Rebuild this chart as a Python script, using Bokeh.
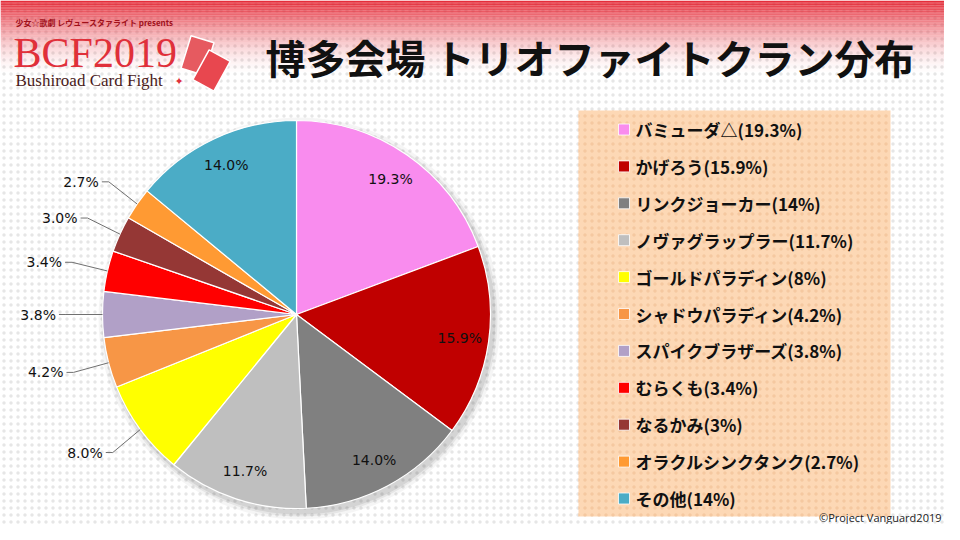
import math
import numpy as np
from bokeh.plotting import figure
from bokeh.models import Range1d
from bokeh.core.properties import value
from bokeh.embed import file_html
from bokeh.resources import INLINE

# ---------------- data ----------------
title_text = "博多会場 トリオファイトクラン分布"
clans = ["バミューダ△", "かげろう", "リンクジョーカー", "ノヴァグラップラー",
         "ゴールドパラディン", "シャドウパラディン", "スパイクブラザーズ",
         "むらくも", "なるかみ", "オラクルシンクタンク", "その他"]
shares = [19.3, 15.9, 14.0, 11.7, 8.0, 4.2, 3.8, 3.4, 3.0, 2.7, 14.0]
colors = ["#F98CEE", "#C00000", "#808080", "#BFBFBF", "#FFFF00", "#F79646",
          "#B1A0C7", "#FF0000", "#953735", "#FF9A33", "#4BACC6"]
copyright_text = "©Project Vanguard2019"

# ---------------- figure ----------------
W, H = 944, 524
p = figure(width=W, height=H, x_range=Range1d(0, 944), y_range=Range1d(16, 540),
           output_backend="svg", toolbar_location=None, min_border=0,
           x_axis_location=None, y_axis_location=None)
p.grid.visible = False
p.outline_line_color = None
p.background_fill_color = "white"
p.border_fill_color = "white"


def Y(y):
    return 540 - y


# dotted background
p.quad(left=[0], right=[960], bottom=[0], top=[540], fill_color="white",
       line_color=None, hatch_pattern="dot", hatch_color="#E6E6E6",
       hatch_scale=7, hatch_weight=2.5)

# red header gradient
n = 45
ys = np.linspace(0, 75, n + 1)
alph = [0.95 * (1 - (ys[i] / 75)) ** 1.7 for i in range(n)]
p.quad(left=0, right=960, top=[Y(v) for v in ys[:-1]], bottom=[Y(v) for v in ys[1:]],
       fill_color="#E4222F", fill_alpha=alph, line_color=None)

# ---------------- logo ----------------
p.text(x=[15], y=[Y(22)], text=["少女☆歌劇 レヴュースタァライト presents"],
       text_font=value("Noto Sans CJK JP"), text_font_style="bold",
       text_font_size="8px", text_color="#A0101A", text_baseline="middle")
p.text(x=[13], y=[Y(52)], text=["BCF2019"], text_font=value("Liberation Serif"),
       text_font_size="42px", text_color="#E0303A", text_baseline="middle")
p.rect(x=[197, 211], y=[Y(55), Y(70)], width=24, height=34, angle=[-0.3, -0.5],
       fill_color=["#E65A60", "#E8474F"], line_color="white", line_width=1.5)
p.text(x=[15], y=[Y(80)], text=["Bushiroad Card Fight"],
       text_font=value("Liberation Serif"), text_font_size="17px",
       text_color="#4A1A1A", text_baseline="middle")
p.text(x=[174], y=[Y(81)], text=["✦"], text_font=value("DejaVu Sans"),
       text_font_size="11px", text_color="#E0303A", text_baseline="middle")

# ---------------- title ----------------
p.text(x=[265], y=[Y(56)], text=[title_text], text_font=value("Noto Sans CJK JP"),
       text_font_style="bold", text_font_size="40px", text_color="#111111",
       text_baseline="middle")

# ---------------- pie ----------------
cx, cy, R = 296, Y(314), 194
total = sum(shares)
cum = np.concatenate([[0], np.cumsum(shares)]) / total
start = [math.pi / 2 - 2 * math.pi * c for c in cum[:-1]]
end = [math.pi / 2 - 2 * math.pi * c for c in cum[1:]]

# soft shadow
for k, a in [(7, 0.04), (4, 0.06), (2, 0.08)]:
    p.circle(x=[cx + 3], y=[cy - 4], radius=R + k, fill_color="black",
             fill_alpha=a, line_color=None)

p.wedge(x=cx, y=cy, radius=R, start_angle=start, end_angle=end,
        direction="clock", fill_color=colors, line_color="white", line_width=1.2)

mid = (cum[:-1] + cum[1:]) / 2
ang = [math.pi / 2 - 2 * math.pi * m for m in mid]
in_x, in_y, in_t = [], [], []
out_x, out_y, out_t, lx, ly = [], [], [], [], []
for s, a in zip(shares, ang):
    lab = f"{s:.1f}%"
    if s >= 10:
        in_x.append(cx + math.cos(a) * R * 0.85)
        in_y.append(cy + math.sin(a) * R * 0.85)
        in_t.append(lab)
    else:
        ex, ey = cx + math.cos(a) * R, cy + math.sin(a) * R
        tx, ty = cx + math.cos(a) * R * 1.24, cy + math.sin(a) * R * 1.2
        out_x.append(tx)
        out_y.append(ty)
        out_t.append(lab)
        lx.append([ex, tx + 10, tx + 3])
        ly.append([ey, ty, ty])

p.text(x=in_x, y=in_y, text=in_t, text_font=value("DejaVu Sans"),
       text_font_size="14px", text_color="#111111",
       text_align="center", text_baseline="middle")
p.multi_line(xs=lx, ys=ly, line_color="#707070", line_width=1)
p.text(x=out_x, y=out_y, text=out_t, text_font=value("DejaVu Sans"),
       text_font_size="14px", text_color="#111111",
       text_align="right", text_baseline="middle")

# ---------------- legend ----------------
p.quad(left=[578], right=[890], top=[Y(110)], bottom=[Y(516)],
       fill_color="#FDD8B5", line_color=None, hatch_pattern="dot",
       hatch_color="#F5C8A0", hatch_scale=7, hatch_weight=2.5)
rows = [Y(129 + i * 36.9) for i in range(len(clans))]
p.rect(x=623.5, y=rows, width=11, height=11, fill_color=colors, line_color="white",
       line_width=0.8)
leg_labels = [f"{c}({s:g}%)" for c, s in zip(clans, shares)]
p.text(x=635, y=rows, text=leg_labels, text_font=value("Noto Sans CJK JP"),
       text_font_style="bold", text_font_size="17px", text_color="#111111",
       text_baseline="middle")

# copyright (kept inside the canvas)
p.text(x=[941], y=[Y(517)], text=[copyright_text], text_font=value("Open Sans"),
       text_font_size="11px", text_color="#222222", text_align="right",
       text_baseline="middle")

open("out.html", "w").write(file_html(p, INLINE))
